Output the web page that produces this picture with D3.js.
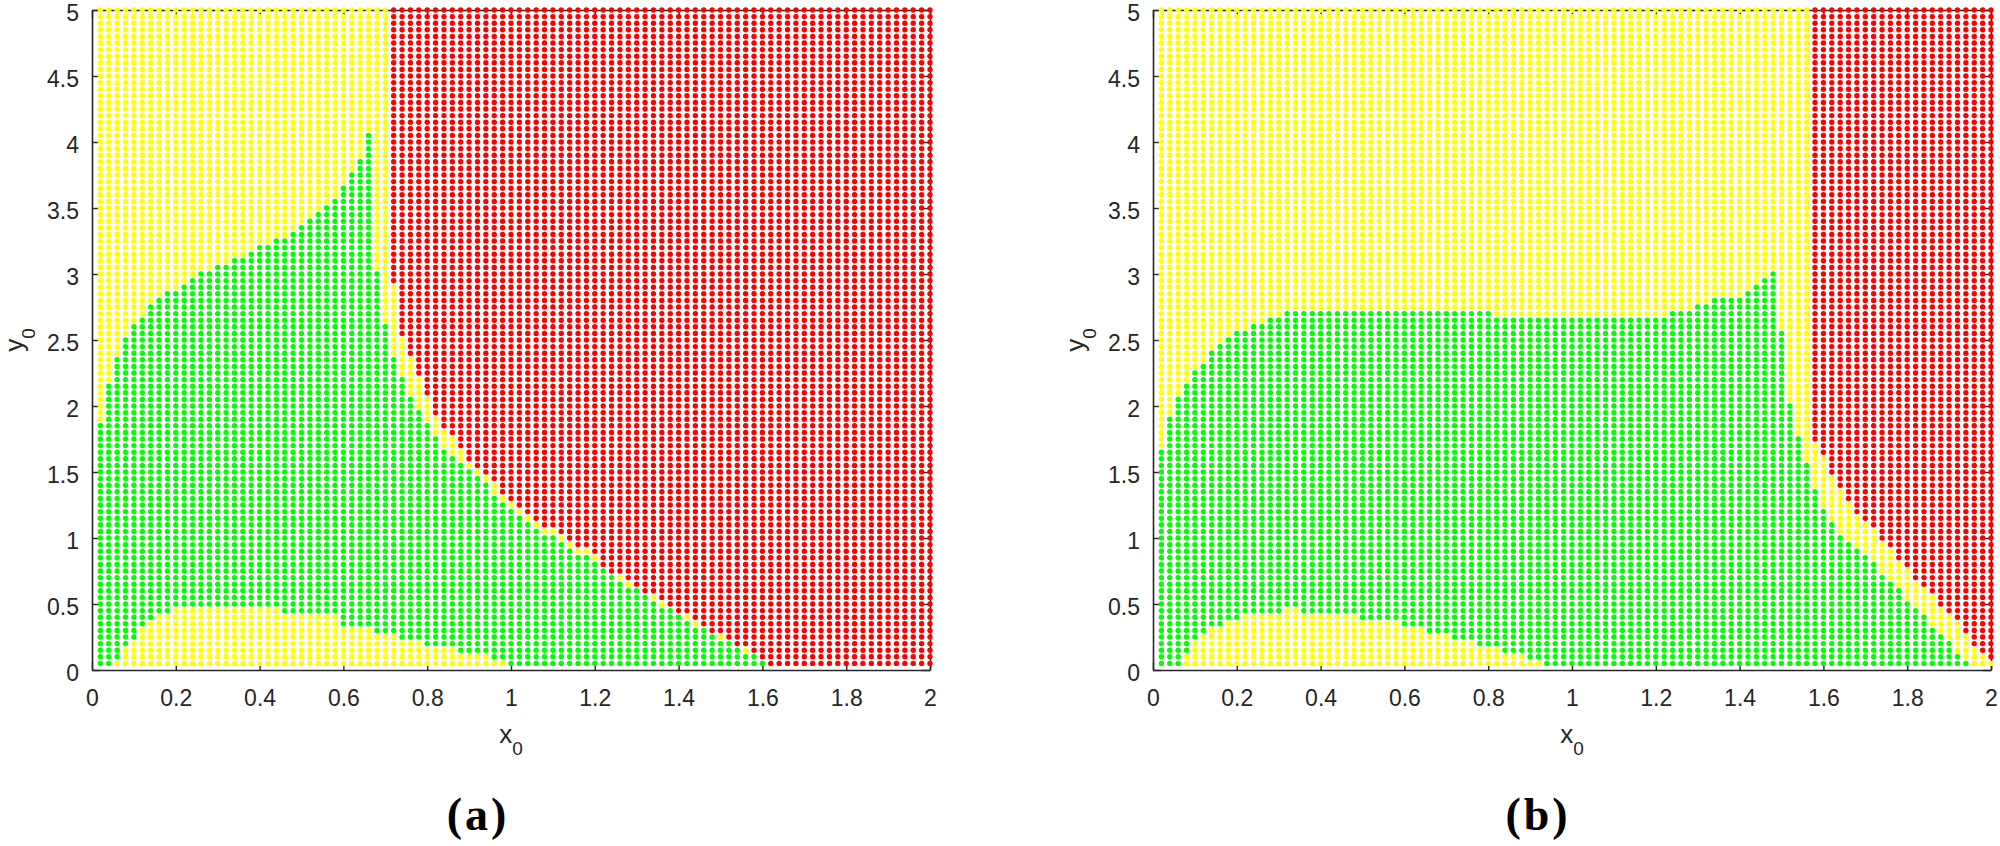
<!DOCTYPE html>
<meta charset="utf-8">
<title>Basins x0 y0</title>
<style>
body { margin: 0; background: #fff; }
</style>
<body>
<script src="https://cdn.jsdelivr.net/npm/d3@7"></script>
<script>
// grid of initial points: column k -> x0 = 0.02*k, row r -> y0 = 0.05*r (k, r = 1..100)
// per column:
//   blob  = highest row of the yellow patch at the bottom (0 = none)
//   green = highest row of the green region
//   red   = lowest row of the red region (101 = no red)
var xTicks = [0, 0.2, 0.4, 0.6, 0.8, 1, 1.2, 1.4, 1.6, 1.8, 2];
var xLabels = ['0', '0.2', '0.4', '0.6', '0.8', '1', '1.2', '1.4', '1.6', '1.8', '2'];
var yTicks = [0, 0.5, 1, 1.5, 2, 2.5, 3, 3.5, 4, 4.5, 5];
var yLabels = ['0', '0.5', '1', '1.5', '2', '2.5', '3', '3.5', '4', '4.5', '5'];

var blobA = [0,0,1,3,4,6,7,8,8,9, 9,9,9,9,9,9,9,9,9,9,
             9,9,8,8,8,8,8,8,8,6, 6,6,6,5,5,5,4,4,4,3,
             3,3,3,2,2,2,2,1,1,0, 0,0,0,0,0,0,0,0,0,0,
             0,0,0,0,0,0,0,0,0,0, 0,0,0,0,0,0,0,0,0,0,
             0,0,0,0,0,0,0,0,0,0, 0,0,0,0,0,0,0,0,0,0];
var greenA = [37,43,47,50,52,53,55,56,57,57, 58,59,60,60,61,61,62,62,63,64,
              64,65,65,66,67,68,69,70,71,73, 75,77,81,60,52,47,44,41,39,37,
              35,33,32,31,30,29,28,26,25,24, 23,22,21,20,20,19,18,17,17,16,
              15,14,13,12,12,11,10,9,9,8, 7,6,6,5,4,4,3,2,2,1,
              0,0,0,0,0,0,0,0,0,0, 0,0,0,0,0,0,0,0,0,0];
var redA = [101,101,101,101,101,101,101,101,101,101, 101,101,101,101,101,101,101,101,101,101,
            101,101,101,101,101,101,101,101,101,101, 101,101,101,101,101,59,51,48,45,42,
            39,37,36,34,32,31,30,29,27,26, 25,24,23,22,22,21,20,19,19,18,
            16,15,15,14,13,12,12,11,10,9, 9,8,7,6,6,5,4,4,3,2,
            1,1,1,1,1,1,1,1,1,1, 1,1,1,1,1,1,1,1,1,1];

var blobB = [0,0,0,2,4,5,6,6,7,7, 8,8,8,8,8,9,9,8,8,8,
             8,8,8,8,7,7,7,7,7,6, 6,6,5,5,5,4,4,4,3,3,
             3,2,2,2,1,1,0,0,0,0, 0,0,0,0,0,0,0,0,0,0,
             0,0,0,0,0,0,0,0,0,0, 0,0,0,0,0,0,0,0,0,0,
             0,0,0,0,0,0,0,0,0,0, 0,0,0,0,0,0,0,0,0,0];
var greenB = [33,38,41,43,45,46,48,49,50,51, 51,52,52,53,53,54,54,54,54,54,
              54,54,54,54,54,54,54,54,54,54, 54,54,54,54,54,54,54,54,54,54,
              53,53,53,53,53,53,53,53,53,53, 53,53,53,53,53,53,53,53,53,53,
              53,54,54,54,55,55,56,56,56,56, 57,58,59,60,51,40,35,31,27,24,
              22,20,19,18,17,16,14,13,12,10, 9,8,6,5,4,2,1,0,0,0];
var redB = [101,101,101,101,101,101,101,101,101,101, 101,101,101,101,101,101,101,101,101,101,
            101,101,101,101,101,101,101,101,101,101, 101,101,101,101,101,101,101,101,101,101,
            101,101,101,101,101,101,101,101,101,101, 101,101,101,101,101,101,101,101,101,101,
            101,101,101,101,101,101,101,101,101,101, 101,101,101,101,101,101,101,101,35,33,
            30,28,26,24,23,22,20,19,17,16, 14,13,12,10,9,8,6,4,3,2];

var colYellow = '#ffff00', colGreen = '#00ff00', colRed = '#ff0000';
var ink = '#262626';

var W = 2000, H = 846;
var plotTop = 10, plotBottom = 670;

var svg = d3.select('body').append('svg')
    .attr('width', W)
    .attr('height', H)
    .style('display', 'block')
    .style('font-family', '"Liberation Sans", Arial, Helvetica, sans-serif');

var panels = [
  {left: 92, right: 930, blob: blobA, green: greenA, red: redA, tag: '(a)', tagX: 478, ylabX: 23},
  {left: 1153, right: 1991, blob: blobB, green: greenB, red: redB, tag: '(b)', tagX: 1538, ylabX: 1084}
];

panels.forEach(function(p) {
  var x = d3.scaleLinear().domain([0, 2]).range([p.left, p.right]);
  var y = d3.scaleLinear().domain([0, 5]).range([plotBottom, plotTop]);
  var g = svg.append('g');

  // box + inward ticks
  var fmtX = function(d, i) { return xLabels[i]; };
  var fmtY = function(d, i) { return yLabels[i]; };
  g.append('g').attr('transform', 'translate(0,' + plotBottom + ')')
    .call(d3.axisBottom(x).tickValues(xTicks).tickFormat(fmtX).tickSizeInner(-8).tickSizeOuter(0).tickPadding(20));
  g.append('g').attr('transform', 'translate(0,' + plotTop + ')')
    .call(d3.axisTop(x).tickValues(xTicks).tickFormat('').tickSizeInner(-8).tickSizeOuter(0));
  var yAx = g.append('g').attr('transform', 'translate(' + p.left + ',0)')
    .call(d3.axisLeft(y).tickValues(yTicks).tickFormat(fmtY).tickSizeInner(-8).tickSizeOuter(0).tickPadding(13));
  yAx.selectAll('.tick text').attr('dy', '0.45em');
  g.append('g').attr('transform', 'translate(' + p.right + ',0)')
    .call(d3.axisRight(y).tickValues(yTicks).tickFormat('').tickSizeInner(-8).tickSizeOuter(0));

  g.selectAll('.domain').attr('stroke', ink).attr('stroke-width', 1.6);
  g.selectAll('.tick line').attr('stroke', ink).attr('stroke-width', 1.4);
  g.selectAll('.tick text').attr('fill', ink).style('font-size', '23px');

  // points
  var pts = [];
  for (var k = 1; k <= 100; k++) {
    for (var r = 1; r <= 100; r++) {
      var c;
      if (r <= p.blob[k - 1]) c = colYellow;
      else if (r <= p.green[k - 1]) c = colGreen;
      else if (r >= p.red[k - 1]) c = colRed;
      else c = colYellow;
      pts.push({x: 0.02 * k, y: 0.05 * r, c: c});
    }
  }
  g.append('g').selectAll('circle')
    .data(pts)
    .join('circle')
      .attr('cx', function(d) { return x(d.x); })
      .attr('cy', function(d) { return y(d.y); })
      .attr('r', 2.7)
      .attr('fill', function(d) { return d.c; });

  // axis labels
  var xl = g.append('text')
    .attr('x', (p.left + p.right) / 2)
    .attr('y', 743)
    .attr('text-anchor', 'middle')
    .attr('fill', ink)
    .style('font-size', '26px');
  xl.append('tspan').text('x');
  xl.append('tspan').attr('dy', 12).style('font-size', '19px').text('0');

  var yl = g.append('text')
    .attr('transform', 'translate(' + p.ylabX + ',' + (plotTop + plotBottom) / 2 + ') rotate(-90)')
    .attr('text-anchor', 'middle')
    .attr('fill', ink)
    .style('font-size', '26px');
  yl.append('tspan').text('y');
  yl.append('tspan').attr('dy', 12).style('font-size', '19px').text('0');

  g.append('text')
    .attr('x', p.tagX)
    .attr('y', 830)
    .attr('text-anchor', 'middle')
    .attr('fill', '#000')
    .style('font-family', '"Liberation Serif", "Times New Roman", serif')
    .style('font-weight', 'bold')
    .style('font-size', '46px')
    .style('letter-spacing', '3px')
    .text(p.tag);
});
</script>
</body>
